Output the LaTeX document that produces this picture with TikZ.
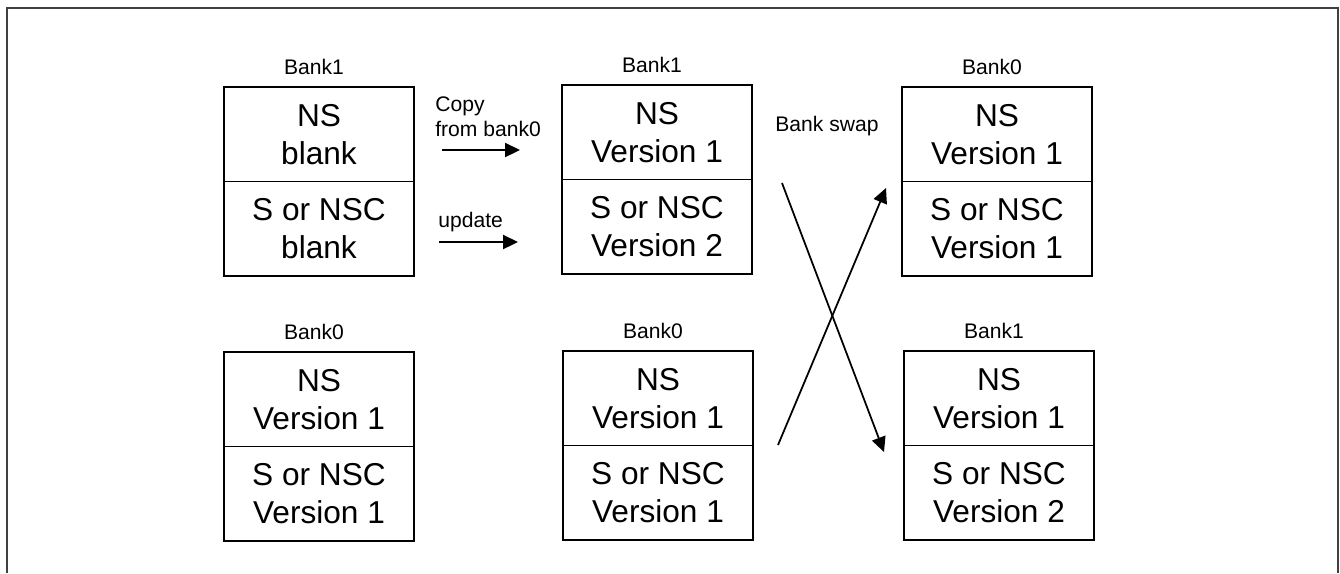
\documentclass[tikz,border=0pt]{standalone}
\usepackage{fontspec}
\setmainfont{Liberation Sans}
\usepackage{tikz}
\usetikzlibrary{positioning,arrows.meta}
\definecolor{framecolor}{RGB}{64,64,64}
\tikzset{
  bank half/.style={
    draw,
    line width=1pt,
    minimum width=3.8cm,
    minimum height=1.89cm,
    inner sep=0pt,
    outer sep=0pt,
    align=center,
    font=\fontsize{18}{21.5}\selectfont
  },
  bank label/.style={
    inner sep=0pt,
    font=\fontsize{12}{14}\selectfont
  },
  arrow/.style={
    -{Triangle[length=8.5pt,width=8pt]},
    line width=1pt
  }
}

\begin{document}
\begin{tikzpicture}[x=0.2mm, y=-0.2mm]
  \useasboundingbox (0,0) rectangle (1340,573);
  % outer frame, open at the bottom
  \draw[framecolor, line width=0.8pt] (7,573) -- (7,8) -- (1338,8) -- (1338,573);

  % before update
  \node[bank half, anchor=north west] (aT) at (224,87) {NS\\blank};
  \node[bank half, below=0pt of aT] (aB) {S or NSC\\blank};
  \node[bank label, above=6.8pt of aT, xshift=-1mm] (aL) {Bank1};

  \node[bank half, anchor=north west] (dT) at (224,352) {NS\\Version 1};
  \node[bank half, below=0pt of dT] (dB) {S or NSC\\Version 1};
  \node[bank label, above=6.8pt of dT, xshift=-1mm] (dL) {Bank0};

  % after update
  \node[bank half, anchor=north west] (bT) at (562,85) {NS\\Version 1};
  \node[bank half, below=0pt of bT] (bB) {S or NSC\\Version 2};
  \node[bank label, above=6.8pt of bT, xshift=-1mm] (bL) {Bank1};

  \node[bank half, anchor=north west] (eT) at (563,351) {NS\\Version 1};
  \node[bank half, below=0pt of eT] (eB) {S or NSC\\Version 1};
  \node[bank label, above=6.8pt of eT, xshift=-1mm] (eL) {Bank0};

  % after bank swap
  \node[bank half, anchor=north west] (cT) at (902,87) {NS\\Version 1};
  \node[bank half, below=0pt of cT] (cB) {S or NSC\\Version 1};
  \node[bank label, above=6.8pt of cT, xshift=-1mm] (cL) {Bank0};

  \node[bank half, anchor=north west] (fT) at (904,351) {NS\\Version 1};
  \node[bank half, below=0pt of fT] (fB) {S or NSC\\Version 2};
  \node[bank label, above=6.8pt of fT, xshift=-1mm] (fL) {Bank1};

  % copy and update arrows
  \node[bank label, align=left, anchor=south west] (copyTxt) at (435,137) {Copy\\from bank0};
  \node[bank label, anchor=base west] (updTxt) at (438,227) {update};
  \coordinate (copyS) at (442,150);
  \coordinate (copyE) at (520,150);
  \coordinate (updS) at (439,242);
  \coordinate (updE) at (518,242);
  \draw[arrow] (copyS) -- (copyE);
  \draw[arrow] (updS) -- (updE);

  % swap arrows
  \node[bank label, anchor=base west] (swapTxt) at (775,131) {Bank swap};
  \coordinate (swA) at (782,183);
  \coordinate (swB) at (884,452);
  \coordinate (swC) at (778,445);
  \coordinate (swD) at (886,188);
  \draw[arrow] (swA) -- (swB);
  \draw[arrow] (swC) -- (swD);
\end{tikzpicture}
\end{document}
